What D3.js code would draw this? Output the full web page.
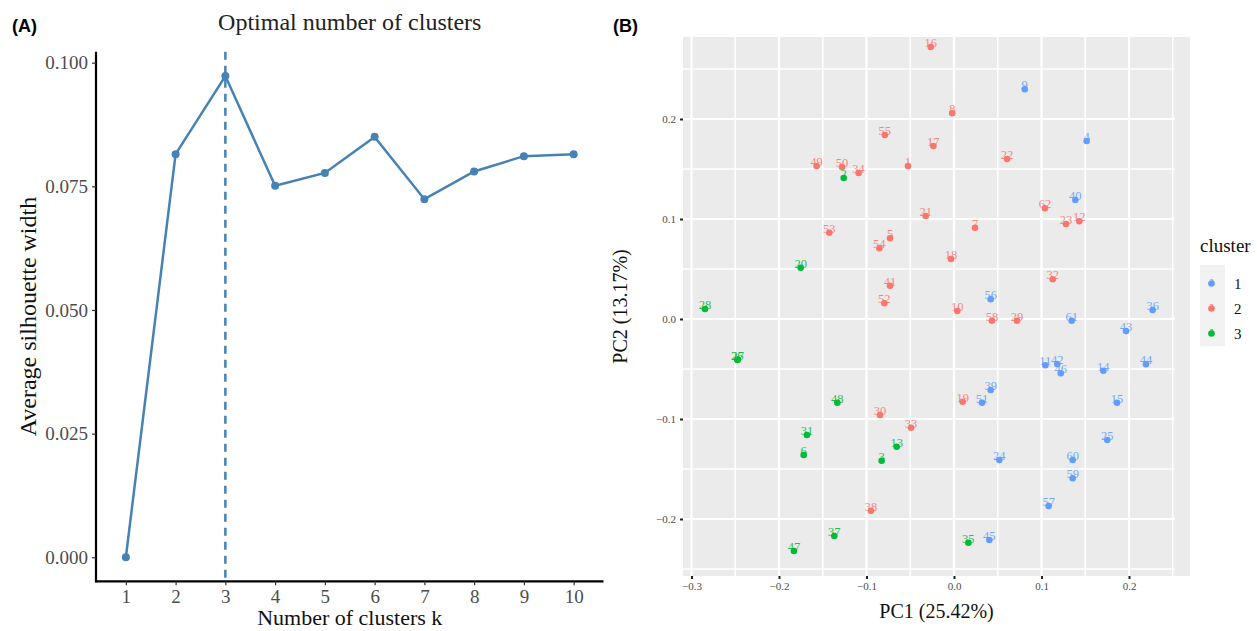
<!DOCTYPE html>
<html>
<head>
<meta charset="utf-8">
<script src="https://cdn.jsdelivr.net/npm/d3@7"></script>
<style>
  body { margin: 0; background: #fff; }
  svg { display: block; }
  text { font-family: "Liberation Serif", "DejaVu Serif", serif; }
  .panel-tag { font-family: "Liberation Sans", Arial, sans-serif; font-weight: bold; }
</style>
</head>
<body>
<div id="chart"></div>
<script>
// ---- Panel A: silhouette ----
const kValues = [1, 2, 3, 4, 5, 6, 7, 8, 9, 10];
const silhouette = [0.000, 0.0815, 0.0973, 0.0751, 0.0777, 0.0850, 0.0724, 0.0780, 0.0811, 0.0815];
const silTicks = [0.000, 0.025, 0.050, 0.075, 0.100];
const optimalK = 3;

// ---- Panel B: PCA ----
const sampleIds = [1, 2, 3, 4, 5, 6, 7, 8, 9, 10, 11, 12, 13, 14, 15, 16, 17, 18, 19, 20, 21,
  22, 23, 24, 25, 26, 27, 28, 29, 30, 31, 32, 33, 34, 35, 36, 37, 38, 39, 40, 41, 42,
  43, 44, 45, 46, 47, 48, 49, 50, 51, 52, 53, 54, 55, 56, 57, 58, 59, 60, 61, 62];
const pc1 = [-0.0526, -0.126, -0.0827, 0.1516, -0.0731, -0.1718, 0.024, -0.002, 0.0808, 0.0038,
  0.1044, 0.1432, -0.0655, 0.1707, 0.1863, -0.0266, -0.0236, -0.0034, 0.0099, -0.1752,
  -0.0324, 0.0606, 0.128, 0.0518, 0.1752, -0.2476, -0.2470, -0.2846, 0.072, -0.0846,
  -0.168, 0.1128, -0.0491, -0.109, 0.0164, 0.227, -0.1368, -0.0949, 0.0419, 0.1387,
  -0.0731, 0.118, 0.1966, 0.2194, 0.0404, 0.122, -0.1829, -0.1333, -0.157, -0.128,
  0.032, -0.0796, -0.1425, -0.0853, -0.079, 0.0419, 0.1082, 0.0434, 0.1356, 0.1356,
  0.1345, 0.104];
const pc2 = [0.153, 0.141, -0.1417, 0.178, 0.0807, -0.136, 0.0913, 0.2057, 0.2297, 0.008,
  -0.0463, 0.0977, -0.1277, -0.0517, -0.0837, 0.272, 0.173, 0.060, -0.0827, 0.0513,
  0.103, 0.160, 0.095, -0.141, -0.121, -0.041, -0.0405, 0.010, -0.0017, -0.096,
  -0.116, 0.0397, -0.1087, 0.146, -0.2237, 0.009, -0.217, -0.1917, -0.071, 0.119,
  0.0333, -0.045, -0.012, -0.0453, -0.221, -0.0543, -0.232, -0.0837, 0.153, 0.152,
  -0.0837, 0.0157, 0.0863, 0.0707, 0.184, 0.0197, -0.187, -0.0017, -0.1593, -0.141,
  -0.0017, 0.1107];
const clusters = [2, 3, 3, 1, 2, 3, 2, 2, 1, 2, 1, 2, 3, 1, 1, 2, 2, 2, 2, 3, 2,
  2, 2, 1, 1, 3, 3, 3, 2, 2, 3, 2, 2, 2, 3, 1, 3, 2, 1, 1, 2, 1,
  1, 1, 1, 1, 3, 3, 2, 2, 1, 2, 2, 2, 2, 1, 1, 2, 1, 1, 1, 2];
const clusterNames = ["1", "2", "3"];
const clusterColors = ["#619CFF", "#F8766D", "#00BA38"];
const pcMajor = [-0.3, -0.2, -0.1, 0.0, 0.1, 0.2];
const pcMinorX = [-0.25, -0.15, -0.05, 0.05, 0.15, 0.25];
const pc2Major = [-0.2, -0.1, 0.0, 0.1, 0.2];
const pc2Minor = [-0.25, -0.15, -0.05, 0.05, 0.15, 0.25];

const svg = d3.select("#chart").append("svg")
    .attr("width", 1257)
    .attr("height", 631);

// ================= Panel A =================
const a = { left: 96, right: 603.5, top: 51.8, bottom: 581.3 };

const xA = d3.scaleLinear().domain([0.4, 10.6]).range([a.left, a.right]);
const yA = d3.scaleLinear().domain([-0.00486, 0.1022]).range([a.bottom, a.top]);

svg.append("text").attr("class", "panel-tag")
    .attr("x", 12).attr("y", 32).style("font-size", "18px").text("(A)");

svg.append("text")
    .attr("x", (a.left + a.right) / 2).attr("y", 30)
    .attr("text-anchor", "middle").style("font-size", "24px").style("fill", "#222")
    .text("Optimal number of clusters");

// dashed optimal line
svg.append("line")
    .attr("x1", xA(optimalK)).attr("x2", xA(optimalK))
    .attr("y1", a.top).attr("y2", a.bottom)
    .attr("stroke", "#4682B4").attr("stroke-width", 2.5)
    .attr("stroke-dasharray", "8,6");

const lineA = d3.line().x((d, i) => xA(kValues[i])).y(d => yA(d));
svg.append("path").datum(silhouette)
    .attr("d", lineA).attr("fill", "none")
    .attr("stroke", "#4682B4").attr("stroke-width", 2.5);

svg.selectAll("circle.sil").data(silhouette).enter().append("circle")
    .attr("class", "sil")
    .attr("cx", (d, i) => xA(kValues[i])).attr("cy", d => yA(d))
    .attr("r", 4).attr("fill", "#4682B4");

// axes A
const axA = svg.append("g").attr("transform", `translate(${a.left},0)`)
    .call(d3.axisLeft(yA).tickValues(silTicks).tickFormat(d3.format(".3f")).tickSize(4).tickPadding(4));
const axB = svg.append("g").attr("transform", `translate(0,${a.bottom})`)
    .call(d3.axisBottom(xA).tickValues(kValues).tickSize(4).tickPadding(4));
[axA, axB].forEach(g => {
  g.select(".domain").attr("stroke", "#000").attr("stroke-width", 2.2);
  g.selectAll(".tick line").attr("stroke", "#333").attr("stroke-width", 1.2);
  g.selectAll(".tick text").style("font-size", "19px").style("fill", "#4D4D4D")
      .style("font-family", "Liberation Serif");
});
axA.select(".domain").attr("d", `M0,${a.top}V${a.bottom + 1}`);
axB.select(".domain").attr("d", `M${a.left - 1},0H${a.right}`);

svg.append("text")
    .attr("transform", `translate(36,${(a.top + a.bottom) / 2}) rotate(-90)`)
    .attr("text-anchor", "middle").style("font-size", "24px").style("fill", "#111")
    .text("Average silhouette width");
svg.append("text")
    .attr("x", (a.left + a.right) / 2).attr("y", 625)
    .attr("text-anchor", "middle").style("font-size", "22px").style("fill", "#111")
    .text("Number of clusters k");

// ================= Panel B =================
const b = { left: 683, right: 1190, top: 37, bottom: 576, gridRight: 1175 };

const xB = d3.scaleLinear().domain([-0.3097, 0.2697]).range([b.left, b.right]);
const yB = d3.scaleLinear().domain([-0.257, 0.282]).range([b.bottom, b.top]);

svg.append("text").attr("class", "panel-tag")
    .attr("x", 613).attr("y", 32).style("font-size", "18px").text("(B)");

svg.append("rect")
    .attr("x", b.left).attr("y", b.top)
    .attr("width", b.right - b.left).attr("height", b.bottom - b.top)
    .attr("fill", "#EBEBEB");

// grid
svg.selectAll("line.hminor").data(pc2Minor).enter().append("line")
    .attr("x1", b.left).attr("x2", b.gridRight)
    .attr("y1", d => yB(d)).attr("y2", d => yB(d))
    .attr("stroke", "#fff").attr("stroke-width", 1.6);
svg.selectAll("line.vminor").data(pcMinorX).enter().append("line")
    .attr("x1", d => xB(d)).attr("x2", d => xB(d))
    .attr("y1", b.top).attr("y2", b.bottom)
    .attr("stroke", "#fff").attr("stroke-width", 1.6);
svg.selectAll("line.hmajor").data(pc2Major).enter().append("line")
    .attr("x1", b.left).attr("x2", b.gridRight)
    .attr("y1", d => yB(d)).attr("y2", d => yB(d))
    .attr("stroke", "#fff").attr("stroke-width", 2.2);
svg.selectAll("line.vmajor").data(pcMajor).enter().append("line")
    .attr("x1", d => xB(d)).attr("x2", d => xB(d))
    .attr("y1", b.top).attr("y2", b.bottom)
    .attr("stroke", "#fff").attr("stroke-width", 2.2);

// axes B
const bx = svg.append("g").attr("transform", `translate(0,${b.bottom})`)
    .call(d3.axisBottom(xB).tickValues(pcMajor).tickFormat(d3.format(".1f")).tickSize(3).tickPadding(3));
const by = svg.append("g").attr("transform", `translate(${b.left},0)`)
    .call(d3.axisLeft(yB).tickValues(pc2Major).tickFormat(d3.format(".1f")).tickSize(3).tickPadding(4));
[bx, by].forEach(g => {
  g.select(".domain").remove();
  g.selectAll(".tick line").attr("stroke", "#222").attr("stroke-width", 2);
  g.selectAll(".tick text").style("font-size", "11px").style("fill", "#4D4D4D")
      .style("font-family", "Liberation Serif");
});

svg.append("text")
    .attr("x", (b.left + b.right) / 2).attr("y", 618)
    .attr("text-anchor", "middle").style("font-size", "20px").style("fill", "#111")
    .text("PC1 (25.42%)");
svg.append("text")
    .attr("transform", `translate(627,${(b.top + b.bottom) / 2}) rotate(-90)`)
    .attr("text-anchor", "middle").style("font-size", "20px").style("fill", "#111")
    .text("PC2 (13.17%)");

// points
const color = d3.scaleOrdinal().domain([1, 2, 3]).range(clusterColors);
const pts = sampleIds.map((id, i) => ({ id, x: pc1[i], y: pc2[i], c: clusters[i] }));

svg.selectAll("circle.pc").data(pts).enter().append("circle")
    .attr("class", "pc")
    .attr("cx", d => xB(d.x)).attr("cy", d => yB(d.y))
    .attr("r", 3.3).attr("fill", d => color(d.c));

svg.selectAll("text.pclab").data(pts).enter().append("text")
    .attr("class", "pclab")
    .attr("x", d => xB(d.x)).attr("y", d => yB(d.y))
    .attr("text-anchor", "middle")
    .style("font-size", "12.5px")
    .style("fill", d => color(d.c)).style("opacity", 0.85)
    .text(d => d.id);

// legend
const leg = svg.append("g").attr("transform", "translate(1200,0)");
leg.append("text").attr("x", 0).attr("y", 252)
    .style("font-size", "19px").style("fill", "#111").text("cluster");
leg.append("rect").attr("x", 0).attr("y", 265).attr("width", 25).attr("height", 81)
    .attr("fill", "#F2F2F2");
const keyY = d3.scaleBand().domain(clusterNames).range([268, 343]);
clusterNames.forEach((n, i) => {
  const cy = keyY(n) + keyY.bandwidth() / 2 + 3;
  leg.append("circle").attr("cx", 11.5).attr("cy", cy).attr("r", 3.3)
      .attr("fill", clusterColors[i]);
  leg.append("text").attr("x", 11.5).attr("y", cy).attr("text-anchor", "middle")
      .style("font-size", "10px").style("fill", clusterColors[i]).text("a");
  leg.append("text").attr("x", 34).attr("y", cy + 5)
      .style("font-size", "15px").style("fill", "#111").text(n);
});
</script>
</body>
</html>
